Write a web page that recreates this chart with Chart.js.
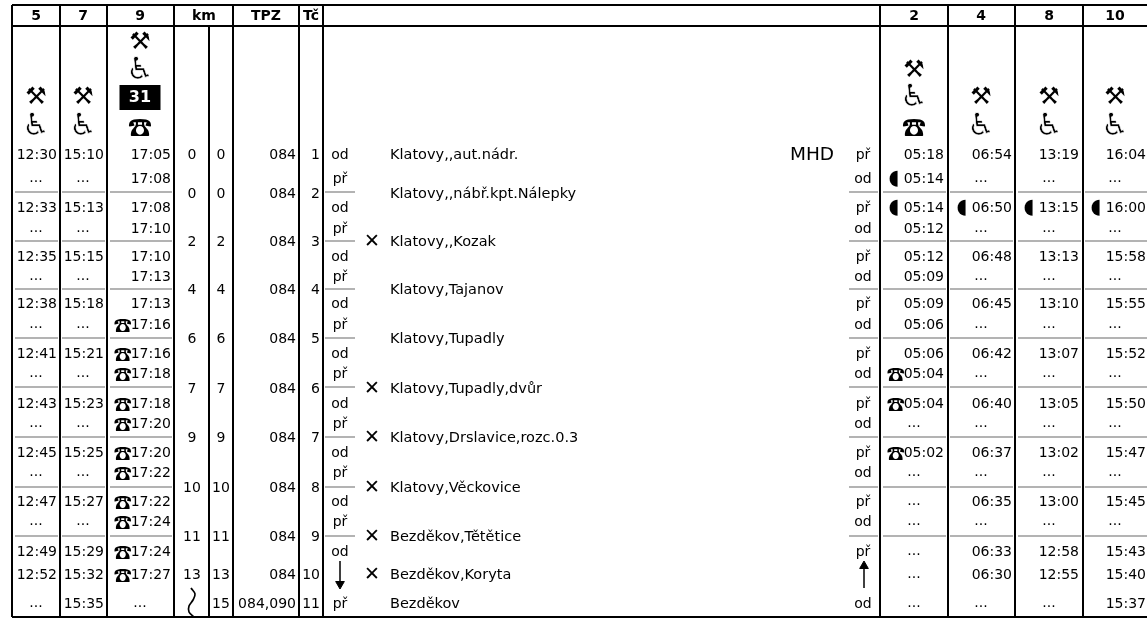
<!DOCTYPE html>
<html><head><meta charset="utf-8">
<style>html,body{margin:0;padding:0;background:#fff;overflow:hidden}canvas{display:block}</style>
<script src="https://cdn.jsdelivr.net/npm/chart.js@4"></script></head>
<body><div style="width:1147px;height:618px"><canvas id="c"></canvas></div>
<script>
// ---- data ----
const headers = ['5','7','9','km','TPZ','Tč','2','4','8','10'];
const trip5  = ['12:30','...','12:33','...','12:35','...','12:38','...','12:41','...','12:43','...','12:45','...','12:47','...','12:49','12:52','...'];
const trip7  = ['15:10','...','15:13','...','15:15','...','15:18','...','15:21','...','15:23','...','15:25','...','15:27','...','15:29','15:32','15:35'];
const trip9  = ['17:05','17:08','17:08','17:10','17:10','17:13','17:13','☎17:16','☎17:16','☎17:18','☎17:18','☎17:20','☎17:20','☎17:22','☎17:22','☎17:24','☎17:24','☎17:27','...'];
const trip2  = ['05:18','◖05:14','◖05:14','05:12','05:12','05:09','05:09','05:06','05:06','☎05:04','☎05:04','...','☎05:02','...','...','...','...','...','...'];
const trip4  = ['06:54','...','◖06:50','...','06:48','...','06:45','...','06:42','...','06:40','...','06:37','...','06:35','...','06:33','06:30','...'];
const trip8  = ['13:19','...','◖13:15','...','13:13','...','13:10','...','13:07','...','13:05','...','13:02','...','13:00','...','12:58','12:55','...'];
const trip10 = ['16:04','...','◖16:00','...','15:58','...','15:55','...','15:52','...','15:50','...','15:47','...','15:45','...','15:43','15:40','15:37'];
const kmA = ['0','0','2','4','6','7','9','10','11','13',''];
const kmB = ['0','0','2','4','6','7','9','10','11','13','15'];
const tpz = ['084','084','084','084','084','084','084','084','084','084','084,090'];
const stopNo = ['1','2','3','4','5','6','7','8','9','10','11'];
const stops = ['Klatovy,,aut.nádr.','Klatovy,,nábř.kpt.Nálepky','Klatovy,,Kozak','Klatovy,Tajanov','Klatovy,Tupadly','Klatovy,Tupadly,dvůr','Klatovy,Drslavice,rozc.0.3','Klatovy,Věckovice','Bezděkov,Tětětice','Bezděkov,Koryta','Bezděkov'];
const request = ['','','✕','','','✕','✕','✕','✕','✕',''];
const leftMode  = ['od','př','od','př','od','př','od','př','od','př','od','př','od','př','od','př','od','','př'];
const rightMode = ['př','od','př','od','př','od','př','od','př','od','př','od','př','od','př','od','př','','od'];
const iconsShort = ['⚒','♿'];
const iconsLong = ['⚒','♿','31','☎'];
const iconsThree = ['⚒','♿','☎'];
const note = 'MHD';

// ---- table layout (axis units) ----
const vLines = [12,60,107,174,233,299,323,880,948,1015,1083];
const vInner = [209];
const hLines = [5,26,617];
const timeY = [155,179,208,229,257,277,304,325,354,374,404,424,453,473,502,522,552,575,604];
const stopY = [155,194,242,290,339,389,438,488,537,575,604];
const sepY = [192,241,289,338,387,437,487,536];
const sepSpans = [[15,58],[62,105],[110,172],[325,355],[849,878],[883,946],[950,1013],[1018,1081],[1085,1147]];
const headX = [36,83,140,204,266,311,914,981,1049,1115];

const ds = (points, extra) => Object.assign({type:'scatter',data:points,pointRadius:0,showLine:false,parsing:false},extra||{});
const black = {showLine:true,borderColor:'#000',borderWidth:2};
const gray = {showLine:true,borderColor:'#9a9a9a',borderWidth:1.5};

const texts = [];
[[trip5,57,36],[trip7,104,83],[trip9,171,140],[trip2,944,914],[trip4,1012,981],[trip8,1079,1049],[trip10,1146,1115]]
 .forEach(([a,x,cx])=>a.forEach((t,i)=>texts.push({x,y:timeY[i],t,al:'right',time:true,cx})));
kmA.forEach((t,i)=>texts.push({x:192,y:stopY[i],t,al:'center'}));
kmB.forEach((t,i)=>texts.push({x:221,y:stopY[i],t,al:'center'}));
tpz.forEach((t,i)=>texts.push({x:296,y:stopY[i],t,al:'right'}));
stopNo.forEach((t,i)=>texts.push({x:320,y:stopY[i],t,al:'right'}));
stops.forEach((t,i)=>texts.push({x:390,y:stopY[i],t,al:'left',sz:14.5}));
request.forEach((t,i)=>texts.push({x:372,y:stopY[i],t,al:'center',sz:19}));
leftMode.forEach((t,i)=>t&&texts.push({x:340,y:timeY[i],t,al:'center'}));
rightMode.forEach((t,i)=>t&&texts.push({x:863,y:timeY[i],t,al:'center'}));
texts.push({x:812,y:155,t:note,al:'center',sz:18.5});
headers.forEach((t,i)=>texts.push({x:headX[i],y:16,t,al:'center',bold:true,sz:14}));
const iconRowsY = {long:[43,71,98,127],short:[98,127],three:[71,98,127]};
[[36,'short',iconsShort],[83,'short',iconsShort],[140,'long',iconsLong],[914,'three',iconsThree],[981,'short',iconsShort],[1049,'short',iconsShort],[1115,'short',iconsShort]]
 .forEach(([x,k,list])=>list.forEach((t,i)=>texts.push({x,y:iconRowsY[k][i],t,al:'center',icon:true})));

const F = '"DejaVu Sans"', PHONE = '"Noto Sans CJK JP"';
const tablePlugin = {
  id:'table',
  afterDatasetsDraw(chart){
    const {ctx,scales:{x,y}} = chart;
    ctx.save();
    ctx.textBaseline='middle';
    ctx.fillStyle='#000';
    texts.forEach(o=>{
      if(!o.t) return;
      const px=x.getPixelForValue(o.x), py=y.getPixelForValue(o.y);
      ctx.textAlign=o.al;
      if(o.icon){
        if(o.t==='31'){
          ctx.fillRect(px-20.5,py-13,41,25);
          ctx.fillStyle='#fff'; ctx.font='bold 16px '+F; ctx.fillText(o.t,px,py);
          ctx.fillStyle='#000'; return;
        }
        ctx.font = o.t==='☎' ? '24px '+PHONE : o.t==='♿' ? '31px '+F : '24px '+F;
        ctx.fillText(o.t,px,py);
        if(o.t==='♿'){ ctx.strokeStyle='#fff'; ctx.lineWidth=.6; ctx.strokeText(o.t,px,py); }
        return;
      }
      ctx.font=(o.bold?'bold ':'')+(o.sz||14)+'px '+F;
      if(o.t==='...' && o.time){
        ctx.textAlign='center'; ctx.fillText('...',x.getPixelForValue(o.cx),py-1); return;
      }
      if(o.time && (o.t[0]==='☎'||o.t[0]==='◖')){
        const sym=o.t[0], rest=o.t.slice(1);
        ctx.fillText(rest,px,py);
        const w=ctx.measureText(rest).width;
        if(sym==='☎'){ ctx.font='18px '+PHONE; ctx.fillText(sym,px-w+1,py); }
        else { ctx.font='21px '+F; ctx.fillText(sym,px-w-4,py); }
        return;
      }
      ctx.fillText(o.t,px,py);
    });
    ctx.restore();
  }
};

const datasets = [];
sepY.forEach(y=>sepSpans.forEach(s=>datasets.push(ds([{x:s[0],y},{x:s[1],y}],gray))));
vLines.forEach(v=>datasets.push(ds([{x:v,y:5},{x:v,y:617}],black)));
vInner.forEach(v=>datasets.push(ds([{x:v,y:26},{x:v,y:617}],black)));
hLines.forEach(v=>datasets.push(ds([{x:12,y:v},{x:1147,y:v}],black)));
datasets.push(
  ds([{x:340,y:561},{x:340,y:582}],{showLine:true,borderColor:'#000',borderWidth:1.5}),
  ds([{x:340,y:584}],{pointRadius:5,pointStyle:'triangle',rotation:180,backgroundColor:'#000',borderColor:'#000'}),
  ds([{x:864,y:588},{x:864,y:568}],{showLine:true,borderColor:'#000',borderWidth:1.5}),
  ds([{x:864,y:566}],{pointRadius:5,pointStyle:'triangle',backgroundColor:'#000',borderColor:'#000'}),
  ds([{x:191,y:588},{x:195,y:594},{x:193,y:600},{x:189,y:606},{x:189,y:612},{x:194,y:617}],{showLine:true,borderColor:'#000',borderWidth:1.7,tension:.35})
);

new Chart(document.getElementById('c'),{
  type:'scatter',
  data:{datasets},
  options:{
    responsive:true,maintainAspectRatio:false,animation:false,
    layout:{padding:0,autoPadding:false},
    plugins:{legend:{display:false},tooltip:{enabled:false}},
    scales:{
      x:{type:'linear',min:0,max:1147,display:false},
      y:{type:'linear',min:0,max:618,reverse:true,display:false}
    }
  },
  plugins:[tablePlugin]
});
</script></body></html>
